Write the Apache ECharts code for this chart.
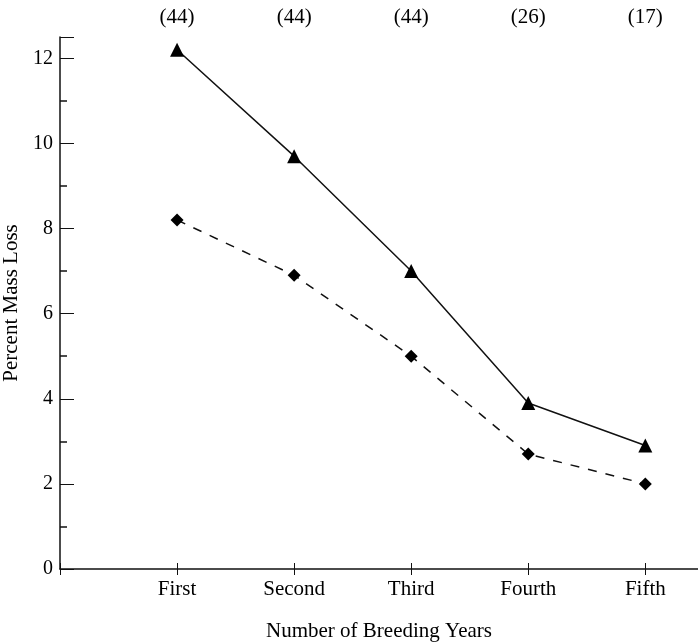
<!DOCTYPE html>
<html><head><meta charset="utf-8">
<script src="https://cdn.jsdelivr.net/npm/echarts@6/dist/echarts.min.js"></script>
<style>html,body{margin:0;padding:0;background:#fff}#c{width:698px;height:643px}</style>
</head><body><div id="c"></div>
<script>
var categories = ['First','Second','Third','Fourth','Fifth'];
var sampleSizes = ['(44)','(44)','(44)','(26)','(17)'];
var triangleSeries = [12.2, 9.7, 7.0, 3.9, 2.9];
var diamondSeries = [8.2, 6.9, 5.0, 2.7, 2.0];
var yTicks = [0,2,4,6,8,10,12];

var font = 'Liberation Serif, Times New Roman, serif';
function pts(arr){ return arr.map(function(v,i){ return [i+1, v]; }); }
function catLabel(list){ return function(v){ var i=Math.round(v); return (Math.abs(v-i)<1e-6 && i>=1 && i<=list.length) ? list[i-1] : ''; }; }

var XMAX = 5.45;
var chart = echarts.init(document.getElementById('c'));
chart.setOption({
  animation:false,
  backgroundColor:'#fff',
  grid:{left:60,right:0,top:37,bottom:74,containLabel:false,outerBoundsMode:'none'},
  xAxis:[
    {type:'value',min:0,max:XMAX,interval:1,position:'bottom',
     name:'Number of Breeding Years',nameLocation:'middle',nameGap:52,
     nameTextStyle:{fontFamily:font,fontSize:21,color:'#000'},
     axisLine:{lineStyle:{color:'#111',width:1.5}},
     axisTick:{inside:true,length:6,lineStyle:{color:'#111'}},
     axisLabel:{formatter:catLabel(categories),fontFamily:font,fontSize:21,color:'#000',margin:10,showMaxLabel:false},
     splitLine:{show:false}},
    {type:'value',min:0,max:XMAX,interval:1,position:'bottom',
     axisLine:{show:false},
     axisTick:{inside:false,length:6,lineStyle:{color:'#111'}},
     axisLabel:{show:false},splitLine:{show:false}},
    {type:'value',min:0,max:XMAX,interval:1,position:'top',
     axisLine:{show:false},axisTick:{show:false},
     axisLabel:{formatter:catLabel(sampleSizes),fontFamily:font,fontSize:21,color:'#000',margin:9,showMaxLabel:false},
     splitLine:{show:false}}
  ],
  yAxis:{type:'value',min:0,max:12.5,interval:2,
    name:'Percent Mass Loss',nameLocation:'middle',nameGap:34,
    nameTextStyle:{fontFamily:font,fontSize:21,color:'#000'},
    axisLine:{show:true,lineStyle:{color:'#111',width:1.5}},
    axisTick:{show:true,inside:true,length:14,lineStyle:{color:'#111'}},
    minorTick:{show:true,splitNumber:2,length:7,lineStyle:{color:'#111',width:1.5}},
    axisLabel:{formatter:function(v){return yTicks.indexOf(v)>=0?String(v):'';},fontFamily:font,fontSize:20,color:'#000',margin:7,showMaxLabel:false},
    splitLine:{show:false}},
  series:[
    {type:'line',data:pts(triangleSeries),xAxisIndex:0,symbol:'triangle',symbolSize:14,
     lineStyle:{color:'#111',width:1.5},itemStyle:{color:'#000'}},
    {type:'line',data:pts(diamondSeries),xAxisIndex:0,symbol:'diamond',symbolSize:13,
     lineStyle:{color:'#111',width:1.5,type:[9,9]},itemStyle:{color:'#000'}}
  ]
});
</script></body></html>
